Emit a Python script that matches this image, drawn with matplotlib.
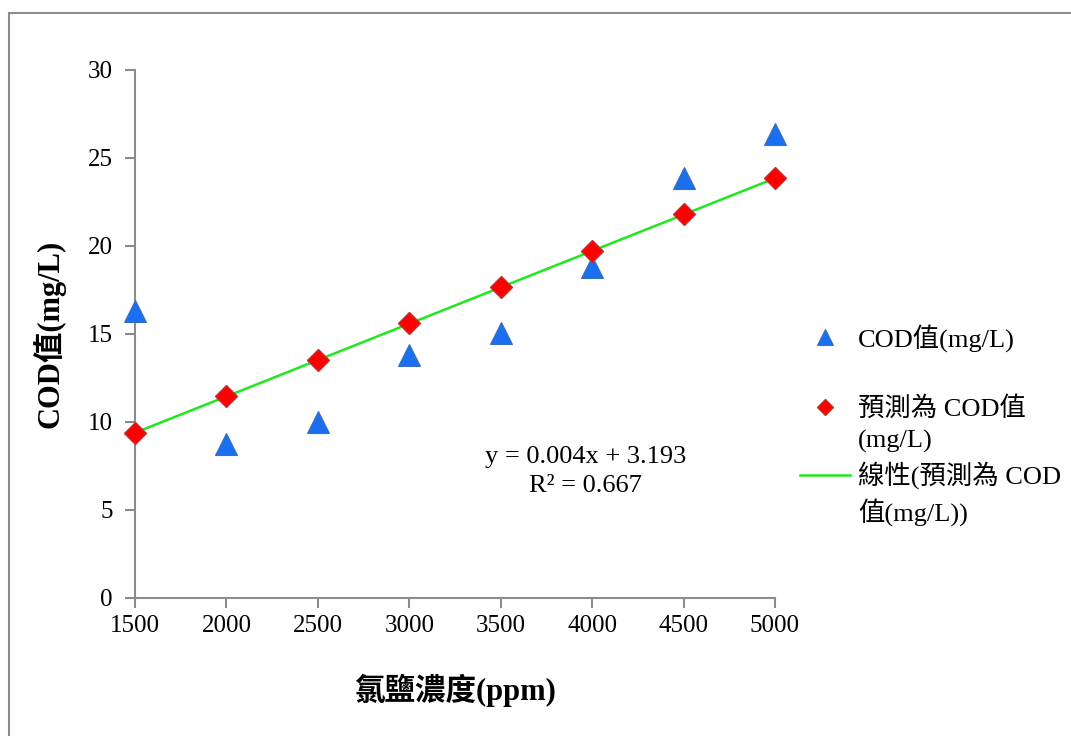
import numpy as np
import matplotlib.pyplot as plt
from matplotlib.lines import Line2D
from matplotlib.patches import Rectangle

# chloride concentration (ppm)
chloride = [1500, 2000, 2500, 3000, 3500, 4000, 4500, 5000]
# measured COD (mg/L)
cod_measured = [16.3, 8.75, 10.0, 13.8, 15.05, 18.8, 23.85, 26.35]
# predicted COD (mg/L)
cod_predicted = [9.4, 11.45, 13.5, 15.6, 17.65, 19.7, 21.8, 23.85]

fonts = ['Liberation Serif', 'Noto Sans CJK TC']
plt.rcParams['font.family'] = fonts

fig = plt.figure(figsize=(10.71, 7.36), dpi=100)
ax = fig.add_axes([0.1261, 0.1875, 0.5975, 0.7174])

# outer chart border
fig.patches.append(Rectangle((9 / 1071, -0.01), 1.1, 1 - 13 / 736 + 0.01,
                             transform=fig.transFigure, fill=False,
                             edgecolor='#8c8c8c', linewidth=1.5))

h_meas, = ax.plot(chloride, cod_measured, linestyle='none', marker='^', markersize=16,
                  color='#1a6ef0', markeredgecolor='#3a6fb8', markeredgewidth=0.8,
                  label='COD值(mg/L)', zorder=3, clip_on=False)
h_pred, = ax.plot(chloride, cod_predicted, linestyle='none', marker='D', markersize=11.5,
                  color='#ff0000', markeredgecolor='#c03030', markeredgewidth=1.0,
                  label='預測為 COD值', zorder=3, clip_on=False)

# linear trend line of predicted values
slope, intercept = np.polyfit(chloride, cod_predicted, 1)
xs = np.array([chloride[0], chloride[-1]])
h_fit, = ax.plot(xs, slope * xs + intercept, color='#1ee81e', linewidth=1.8,
                 label='線性(預測為 COD', zorder=2)

ax.set_xlim(1500, 5000)
ax.set_ylim(0, 30)
ax.set_xticks(chloride)
ax.set_yticks(range(0, 31, 5))

for side in ['top', 'right']:
    ax.spines[side].set_visible(False)
for side in ['left', 'bottom']:
    ax.spines[side].set_color('#8c8c8c')
    ax.spines[side].set_linewidth(1.5)
ax.tick_params(colors='#8c8c8c', labelcolor='black', width=1.5, length=7,
               labelsize=18, direction='out')
ax.tick_params(axis='x', pad=5)
ax.tick_params(axis='y', pad=9)

ax.set_xlabel('氯鹽濃度(ppm)', fontsize=22, fontweight='bold', labelpad=27)
ax.set_ylabel('COD值(mg/L)', fontsize=22, fontweight='bold', labelpad=16)

ax.text(3966, 7.2, 'y = 0.004x + 3.193\nR² = 0.667', ha='center', va='center',
        fontsize=19, linespacing=1.4)

# legend in two blocks to mimic the uneven spacing of the original;
# wrapped label lines get empty handles so the symbols sit on the first line
blank = Line2D([], [], linestyle='none')
leg_kw = dict(loc='center left', bbox_transform=fig.transFigure, frameon=False,
              fontsize=19, handlelength=1.9, handletextpad=0.3, markerscale=0.75,
              borderpad=0, borderaxespad=0)
leg1 = ax.legend(handles=[h_meas], bbox_to_anchor=(800 / 1071, 1 - 338 / 736), **leg_kw)
ax.add_artist(leg1)
leg2 = ax.legend(handles=[h_pred, blank, h_fit, blank],
                 labels=['預測為 COD值', '(mg/L)', '線性(預測為 COD', '值(mg/L))'],
                 bbox_to_anchor=(800 / 1071, 1 - 461 / 736),
                 labelspacing=0.32, **leg_kw)

fig.savefig('out.png', dpi=100)
